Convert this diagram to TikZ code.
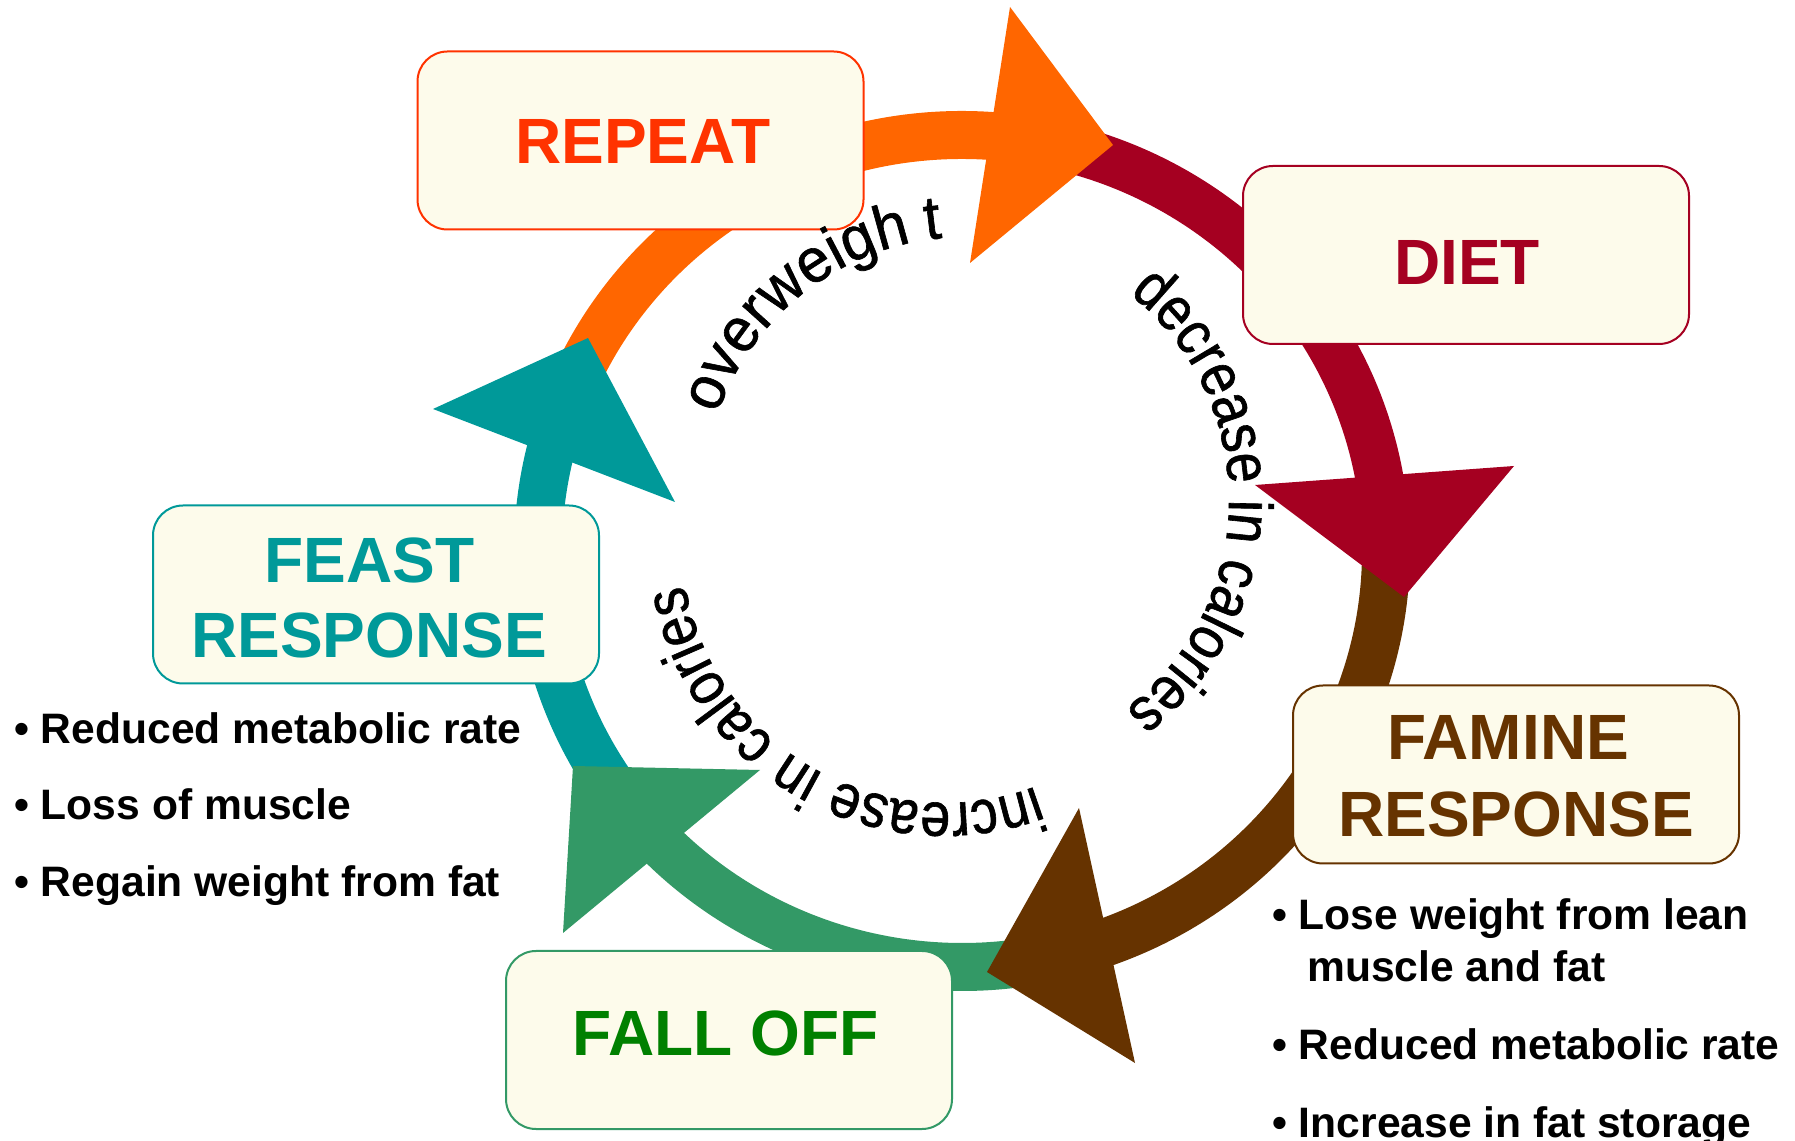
\documentclass[tikz,border=0pt]{standalone}
\usepackage{fontspec}
\setmainfont{Liberation Sans}
\newfontfamily\arcfam[FakeStretch=0.87,FakeBold=1]{Liberation Sans}
\newfontfamily\arcwidefam[FakeStretch=0.96,FakeBold=1]{Liberation Sans}
\usetikzlibrary{decorations.text}
\definecolor{cream}{RGB}{253,251,235}
\definecolor{cRepeat}{HTML}{FF3300}
\definecolor{cOrange}{HTML}{FF6600}
\definecolor{cRed}{HTML}{A50021}
\definecolor{cBrown}{HTML}{663300}
\definecolor{cGreen}{HTML}{339966}
\definecolor{cFall}{HTML}{008000}
\definecolor{cTeal}{HTML}{009999}
\newcommand{\circfont}{\arcfam\fontsize{62}{62}\selectfont}
\newcommand{\circwidefont}{\arcwidefam\fontsize{62}{62}\selectfont}
\begin{document}
\begin{tikzpicture}[x=1pt,y=1pt,
  cbox/.style={draw=#1, fill=cream, line width=2pt, rounded corners=30pt,
    minimum width=446pt, minimum height=178pt, inner sep=0pt},
  btext/.style={text=#1, inner sep=0pt, font=\bfseries\fontsize{64}{64}\selectfont},
  ring/.style={line width=48pt, draw=#1},
  arrowhd/.style={fill=#1},
  bul/.style={anchor=base west, inner sep=0pt, font=\bfseries\fontsize{42.6}{42.6}\selectfont},
  circtext/.style={decorate, decoration={text along path, text={|\circfont|#1}}},
  circwide/.style={decorate, decoration={text along path, text={|\circwidefont|#1}}}
]
\useasboundingbox (0,0) rectangle (1795,1140);
\coordinate (C) at (962,589);
% ring segments
\draw[ring=cOrange] (C) ++(164.6:424 and 416) arc[start angle=164.6, end angle=83.2, x radius=424, y radius=416];
\draw[ring=cRed]    (C) ++(84.2:424 and 416) arc[start angle=84.2, end angle=7.3, x radius=424, y radius=416];
\draw[ring=cBrown]  (C) ++(8.3:424 and 416) arc[start angle=8.3, end angle=-72.7, x radius=424, y radius=416];
\draw[ring=cGreen]  (C) ++(-71.7:424 and 416) arc[start angle=-71.7, end angle=-137.5, x radius=424, y radius=416];
\draw[ring=cTeal]   (C) ++(-136.5:424 and 416) arc[start angle=-136.5, end angle=-196.4, x radius=424, y radius=416];
% arrow heads
\fill[arrowhd=cOrange] (1010,1133) -- (1113,995) -- (970,877) -- cycle;
\fill[arrowhd=cRed] (1255,655) -- (1404,543) -- (1514,674) -- cycle;
\fill[arrowhd=cBrown] (1079,332) -- (987,168) -- (1135,77) -- cycle;
\fill[arrowhd=cGreen] (760,370) -- (573,374) -- (563,207) -- cycle;
\fill[arrowhd=cTeal] (433,731) -- (588,802) -- (675,638) -- cycle;
% boxes
\node[cbox=cRepeat] (repeat) at (640.5,999.5) {};
\node[cbox=cRed] (diet) at (1466,885) {};
\node[cbox=cBrown] (famine) at (1516,365.5) {};
\node[cbox=cTeal] (feast) at (376,545.5) {};
\node[cbox=cGreen] (falloff) at (729,100) {};
% box labels
\node[btext=cRepeat] (repeatT) at (642.8,999) {REPEAT};
\node[btext=cRed] (dietT) at (1467,878) {DIET};
\node[btext=cBrown] (famineT1) at (1508,403) {FAMINE};
\node[btext=cBrown] (famineT2) at (1516,326) {RESPONSE};
\node[btext=cTeal] (feastT1) at (369.5,580) {FEAST};
\node[btext=cTeal] (feastT2) at (369,505) {RESPONSE};
\node[btext=cFall] (falloffT) at (725.5,107) {FALL OFF};
% circular texts
\path[circwide={overweigh}] (966,640) ++(161:263) arc[start angle=161, end angle=60, radius=263];
\path[circwide={t}] (966,640) ++(98.7:263) arc[start angle=98.7, end angle=60, radius=263];
\path[circtext={decrease in calories}] (966,640) ++(51.7:263) arc[start angle=51.7, end angle=-90, radius=263];
\path[circtext={increase in calories}] (944,600) ++(-69.6:263) arc[start angle=-69.6, end angle=-210, radius=263];
% bullets
\node[bul] (l1) at (14,396.3) {• Reduced metabolic rate};
\node[bul] (l2) at (14,320.4) {• Loss of muscle};
\node[bul] (l3) at (14,243) {• Regain weight from fat};
\node[bul] (r1) at (1272,210) {• Lose weight from lean};
\node[bul] (r1b) at (1307,158) {muscle and fat};
\node[bul] (r2) at (1272,80.5) {• Reduced metabolic rate};
\node[bul] (r3) at (1272,3) {• Increase in fat storage};
\end{tikzpicture}
\end{document}
